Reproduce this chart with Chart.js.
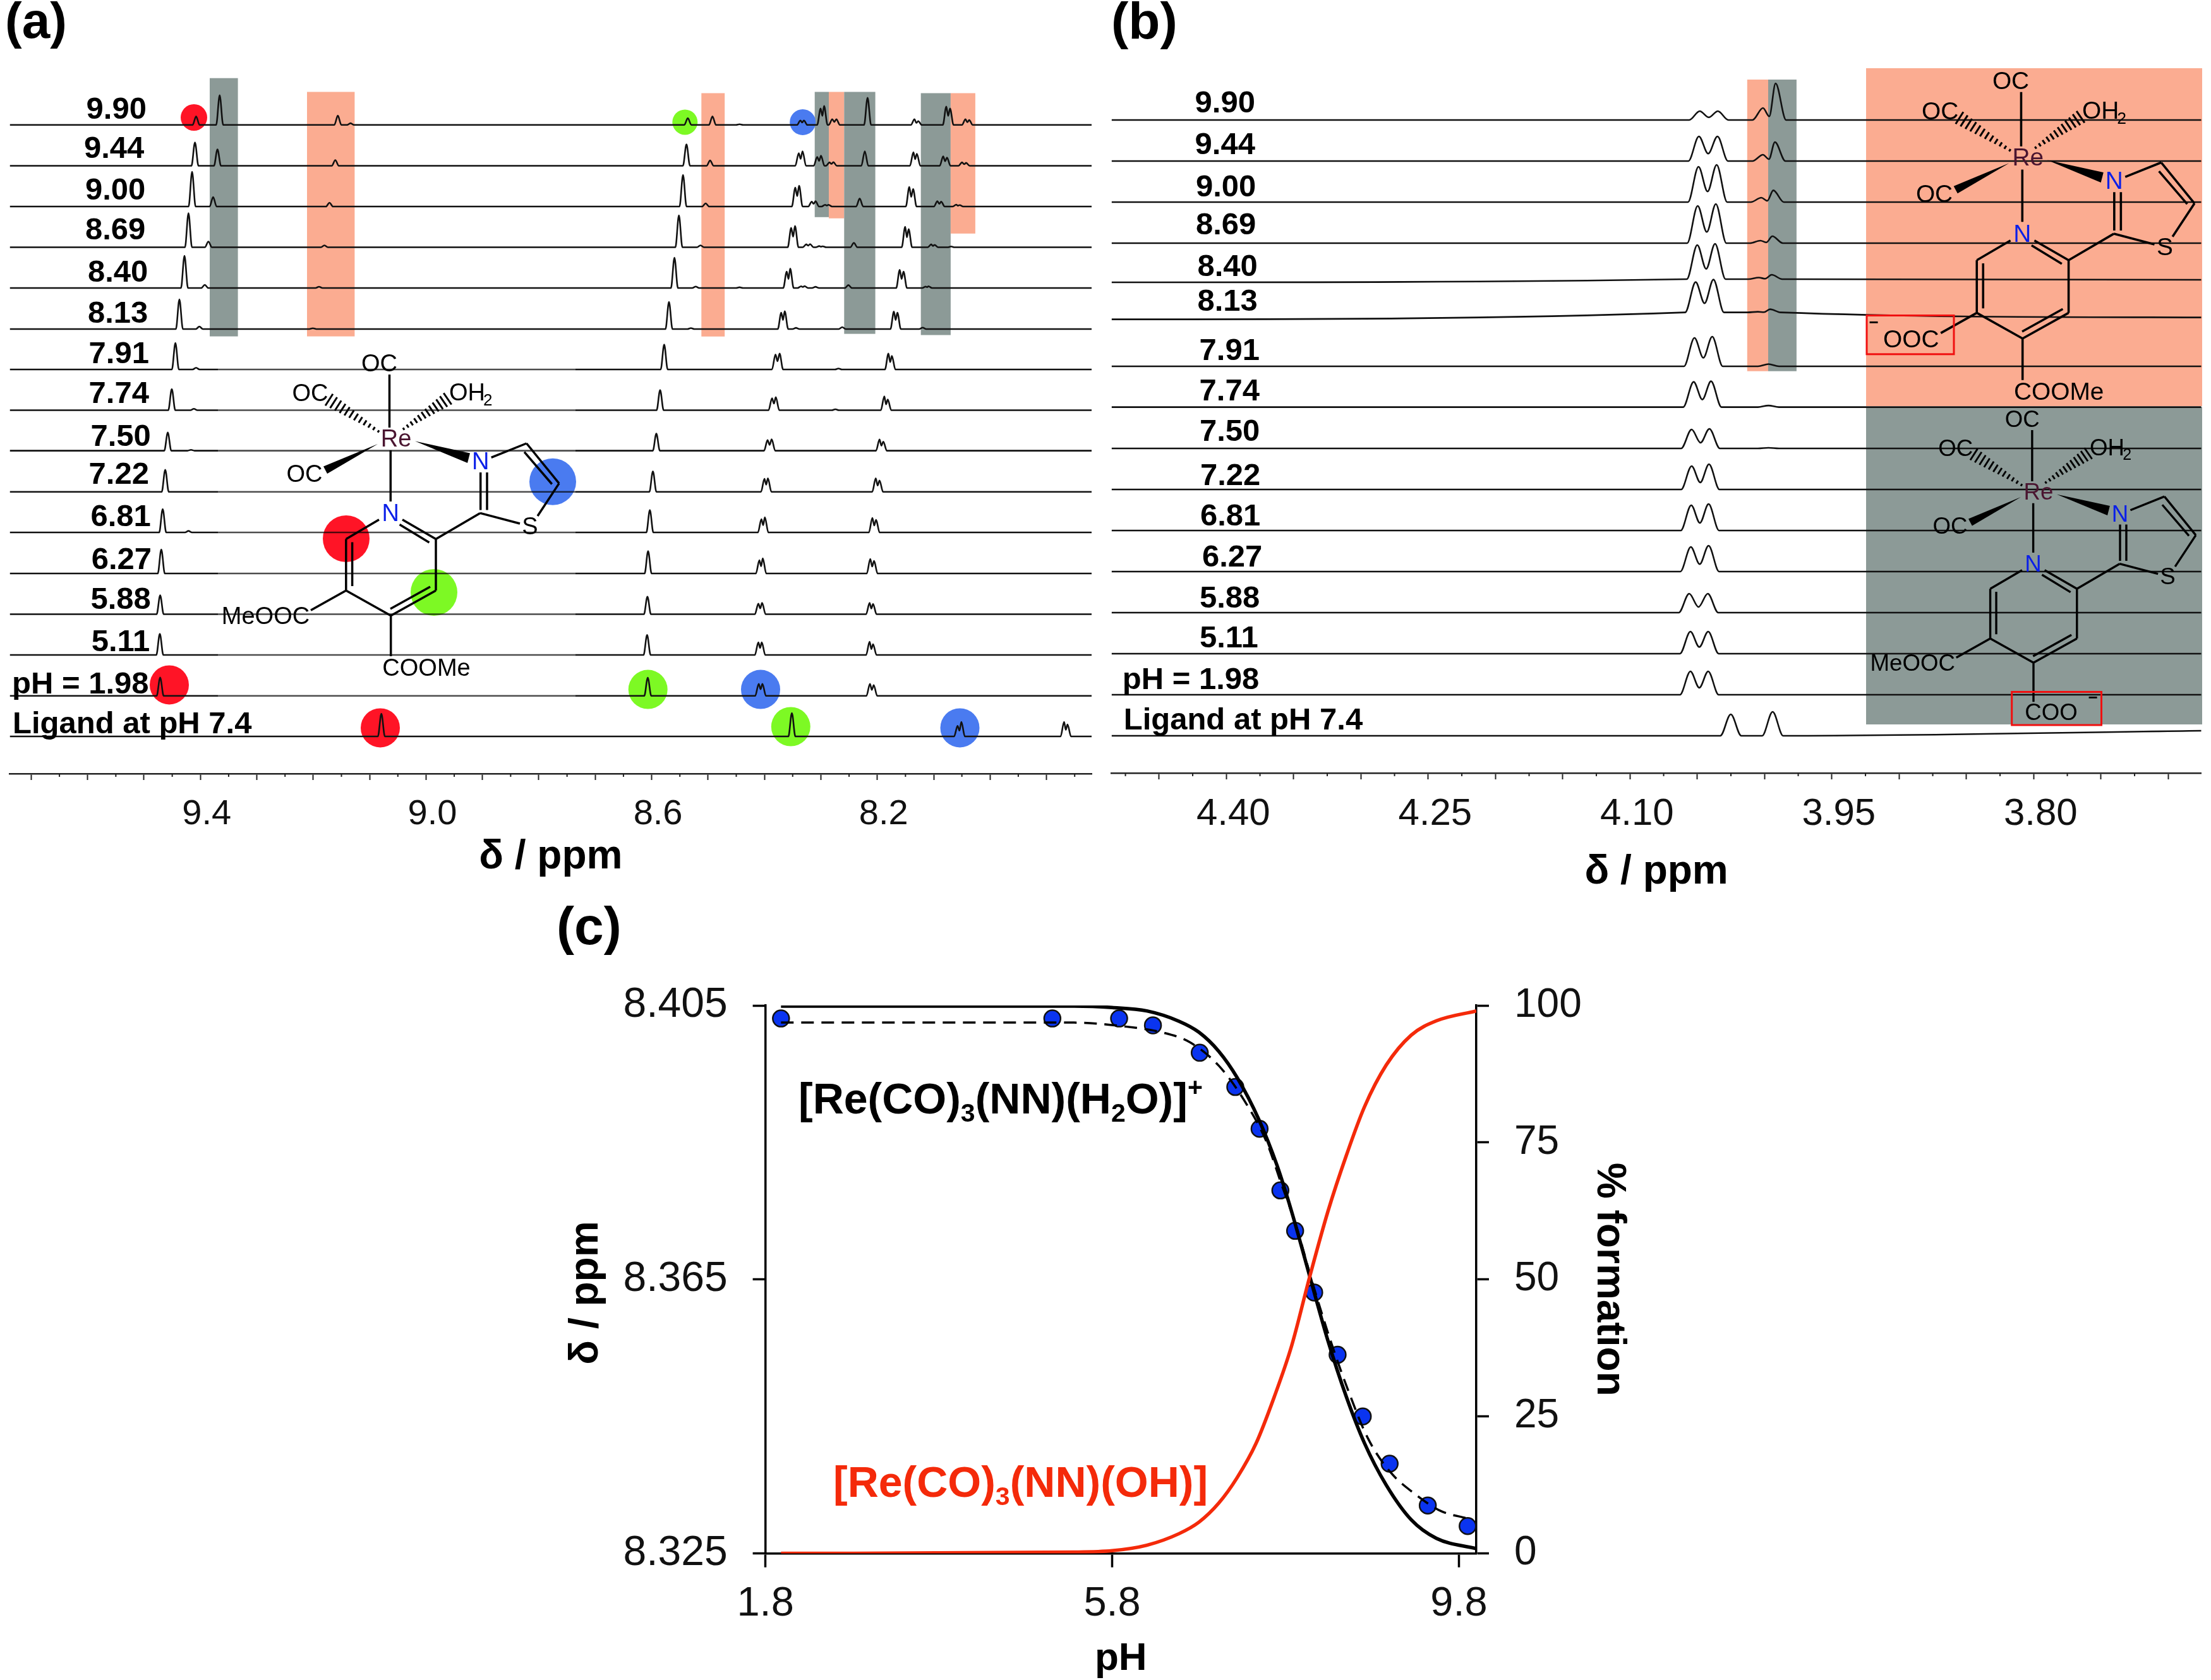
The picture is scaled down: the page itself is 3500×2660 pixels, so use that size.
<!DOCTYPE html>
<html>
<head>
<meta charset="utf-8">
<style>
  html, body { margin: 0; background: #fff; }
  body { position: relative; width: 3500px; height: 2660px; overflow: hidden; }
  canvas { position: absolute; }
</style>
<script src="https://cdn.jsdelivr.net/npm/chart.js@4"></script>
</head>
<body>
<canvas id="pa" width="1750" height="1396" style="left:0;top:0"></canvas>
<canvas id="pb" width="1750" height="1420" style="left:1750px;top:0"></canvas>
<canvas id="pc" width="1735" height="1260" style="left:850px;top:1400px"></canvas>
<script>
// ============================================================
// DATA
// ============================================================
const phLabels = ['9.90','9.44','9.00','8.69','8.40','8.13','7.91','7.74','7.50','7.22','6.81','6.27','5.88','5.11','pH = 1.98','Ligand at pH 7.4'];

// panel a: peaks per spectrum, [ppm, height]
const peaksA = [
  [[9.4077,13.4],[9.3659,47],[9.1564,14.7],[9.1339,2.7],[8.5359,10.7],[8.4922,13.4],[8.4442,1.1],[8.3362,7],[8.3301,7],[8.3004,26],[8.2943,30],[8.2798,9],[8.2725,9],[8.2172,43],[8.1341,9],[8.1274,6],[8.0776,29],[8.0710,26],[8.0436,9],[8.0370,7.7]],
  [[9.4097,37],[9.3698,26],[9.1609,9],[8.5383,34],[8.4964,8.4],[8.3392,20],[8.3325,23],[8.3065,14],[8.2998,16],[8.2846,5.4],[8.2779,5.7],[8.2221,23],[8.1359,21.4],[8.1298,19],[8.0831,15],[8.0764,13],[8.0497,5.4],[8.0424,4.6]],
  [[9.4148,55],[9.3775,15],[9.1712,6],[8.5444,50],[8.5043,5],[8.3453,30],[8.3386,33],[8.3162,7.7],[8.3095,8.4],[8.2925,2.7],[8.2864,2.7],[8.2312,12.6],[8.1432,31],[8.1365,27.6],[8.0934,8.4],[8.0867,7.7],[8.0600,3],[8.0539,2.3]],
  [[9.4212,54],[9.3859,9],[9.1802,3],[8.5517,50.5],[8.5134,3],[8.3526,30.6],[8.3459,33.7],[8.3259,4.6],[8.3192,5],[8.3028,1.9],[8.2967,1.5],[8.2415,7],[8.1505,32.5],[8.1444,28.7],[8.1043,4.6],[8.0983,3.8],[8.0691,1.2]],
  [[9.4283,51],[9.3923,5],[9.1898,2],[8.5596,48],[8.5219,2.3],[8.4442,1.1],[8.3605,26],[8.3544,30.6],[8.3350,2.7],[8.3289,3],[8.3095,1.9],[8.2512,4.6],[8.1602,28.7],[8.1535,26],[8.1141,2.3],[8.1092,2.7]],
  [[9.4373,47],[9.4019,4],[9.2007,1.3],[8.5693,43],[8.5304,1.5],[8.3702,26],[8.3641,28.3],[8.3441,1.9],[8.2621,3],[8.1705,27.6],[8.1644,26],[8.1195,2.3]],
  [[9.4444,42],[9.4077,2.7],[8.5778,39.4],[8.3805,23.7],[8.3732,25.3],[8.2688,1.5],[8.1802,25.3],[8.1741,21.4]],
  [[9.4508,33.5],[9.4116,2.2],[8.5850,32],[8.3866,19],[8.3799,20.7],[8.2743,1.5],[8.1875,22],[8.1814,17]],
  [[9.4579,28.7],[9.4167,1.4],[8.5917,27],[8.3945,16.7],[8.3872,18],[8.1960,17.7],[8.1893,14.4]],
  [[9.4624,35],[8.5978,32.5],[8.4000,20.6],[8.3939,21.5],[8.2027,21.5],[8.1960,18]],
  [[9.4669,37],[9.4212,2.4],[8.6032,35.4],[8.4054,21],[8.3993,24],[8.2087,23],[8.2021,20]],
  [[9.4694,38],[8.6063,35.4],[8.4090,21],[8.4030,24],[8.2124,23],[8.2057,20]],
  [[9.4714,30],[8.6075,27.8],[8.4108,16.7],[8.4042,18],[8.2136,18],[8.2075,16.3]],
  [[9.4720,33.5],[8.6081,31.6],[8.4108,20],[8.4048,20],[8.2136,21],[8.2075,17]],
  [[9.4714,29],[8.6069,28.7],[8.4102,19],[8.4036,19],[8.2130,19],[8.2063,17]],
  [[9.0792,36],[8.3514,37],[8.0576,16.7],[8.0509,23],[7.8688,23],[7.8627,19]]
];
const offsetsA = [1027.2,962.5,898,833.5,769,704,640,575.5,511.4,446.3,382,317,252.5,188,123.3,59];
const majorA = [9.7,9.6,9.5,9.4,9.3,9.2,9.1,9.0,8.9,8.8,8.7,8.6,8.5,8.4,8.3,8.2,8.1,8.0,7.9];
const minorA = [9.65,9.55,9.45,9.35,9.25,9.15,9.05,8.95,8.85,8.75,8.65,8.55,8.45,8.35,8.25,8.15,8.05,7.95,7.85];
const tickLabelsA = ['9.4','9.0','8.6','8.2'];

// panel b
const peaksB = [
  [[4.0482,14],[4.0347,14],[4.0012,19],[3.9918,58]],
  [[4.0488,39],[4.0350,39],[4.0012,10],[3.9923,30]],
  [[4.0491,56],[4.0356,59],[4.0024,7],[3.9935,18.6]],
  [[4.0497,59],[4.0362,62],[4.0031,4],[3.9942,11]],
  [[4.0500,54],[4.0368,56],[4.0043,2.5],[3.9947,7]],
  [[4.0512,48],[4.0380,52],[4.0050,1],[3.9959,5]],
  [[4.0521,45],[4.0389,47],[3.9971,3.5]],
  [[4.0527,40],[4.0398,41],[3.9971,2.5]],
  [[4.0542,30],[4.0410,31],[3.9971,1]],
  [[4.0542,37],[4.0413,40]],
  [[4.0545,40],[4.0416,42]],
  [[4.0548,39],[4.0416,41]],
  [[4.0560,30],[4.0422,30]],
  [[4.0551,35],[4.0419,35]],
  [[4.0551,37],[4.0419,37]],
  [[4.0251,34],[3.9940,38]]
];
const offsetsB = [1034,969,904,839,782,729.4,644,579.4,514,449,384,319,254,189,124,59];
// baseline drift at the left and right ends of a spectrum
const driftB = { 4: [-5,-1], 5: [-11,-8], 15: [0,8] };
const majorB = [4.45,4.40,4.35,4.30,4.25,4.20,4.15,4.10,4.05,4.00,3.95,3.90,3.85,3.80,3.75,3.70];
const minorB = [4.475,4.425,4.375,4.325,4.275,4.225,4.175,4.125,4.075,4.025,3.975,3.925,3.875,3.825,3.775,3.725];
const tickLabelsB = ['4.40','4.25','4.10','3.95','3.80'];

// panel c
const phPoints = [1.98,5.11,5.88,6.27,6.81,7.22,7.50,7.74,7.91,8.13,8.40,8.69,9.00,9.44,9.90];
const deltaPoints = [8.4031,8.4031,8.4031,8.4021,8.3981,8.3931,8.3870,8.3780,8.3721,8.3631,8.3540,8.3450,8.3381,8.3320,8.3290];
const phFit = [1.98,5.11,5.36,5.9,6.4,6.7,7.03,7.32,7.58,7.75,7.92,8.12,8.32,8.54,8.75,9.0,9.29,9.59,9.9];
const deltaFit = [8.4025,8.4025,8.4025,8.4020,8.4010,8.3996,8.3962,8.3912,8.3851,8.3790,8.3729,8.3641,8.3560,8.3482,8.3418,8.3370,8.3337,8.3312,8.3301];
const phCurve = [1.98,5.36,5.8,6.2,6.57,6.8,7.03,7.24,7.49,7.70,7.87,8.08,8.29,8.50,8.71,8.96,9.25,9.54,10.0];
const deltaCurve = [8.4049,8.4049,8.4047,8.4042,8.4027,8.4011,8.3983,8.3945,8.3884,8.3817,8.3749,8.3654,8.3560,8.3479,8.3411,8.3350,8.3299,8.3272,8.3257];
const phRed = [1.98,5.36,5.8,6.2,6.57,6.8,7.03,7.24,7.46,7.67,7.87,8.08,8.29,8.5,8.71,8.96,9.25,9.54,10.0];
const pctRed = [0,0.24,0.5,1.5,3.6,5.7,9.2,13.8,20.1,28.6,37.9,50.6,62.5,72.6,81.5,89.1,94.6,97.2,99];
const xTicksC = [1.8,5.8,9.8];
const yTicksC = [8.325,8.365,8.405];
const y2TicksC = [0,25,50,75,100];

// ============================================================
// HELPERS
// ============================================================
const FONT = '"Liberation Sans", Arial, sans-serif';
Chart.defaults.font.family = FONT;
Chart.defaults.color = '#111';
const SALMON = '#FBAC91', GREY = '#8C9A97', RED = '#FF1426', GREEN = '#7DF924', BLUE = '#4A7BF0', INK = '#111';

// foot, apex, foot for each peak; close neighbours share a valley point
function spectrum(peaks, base, foot, valley, xMin, xMax, drift) {
  const sorted = [...peaks].sort((p, q) => p[0] - q[0]);
  const pts = [{ x: xMin, y: base + (drift ? drift[1] : 0) }];
  sorted.forEach((p, i) => {
    const prev = sorted[i - 1], next = sorted[i + 1];
    if (!prev || p[0] - prev[0] >= foot * 2.2) pts.push({ x: p[0] - foot, y: base });
    else pts.push({ x: (p[0] + prev[0]) / 2, y: base + Math.min(p[1], prev[1]) * valley });
    pts.push({ x: p[0], y: base + p[1] });
    if (!next || next[0] - p[0] >= foot * 2.2) pts.push({ x: p[0] + foot, y: base });
  });
  pts.push({ x: xMax, y: base + (drift ? drift[0] : 0) });
  return pts;
}

function rects(ctx, list) {
  list.forEach(r => { ctx.fillStyle = r[0]; ctx.fillRect(r[1], r[2], r[3] - r[1], r[4] - r[2]); });
}
function blobs(ctx, list) {
  list.forEach(b => { ctx.fillStyle = b[0]; ctx.beginPath(); ctx.ellipse(b[1], b[2], b[3], b[3], 0, 0, Math.PI * 2); ctx.fill(); });
}
function text(ctx, s, x, y, font, color, align, rot) {
  ctx.save();
  ctx.translate(x, y);
  if (rot) ctx.rotate(rot);
  ctx.font = font + ' ' + FONT;
  ctx.fillStyle = color || '#000';
  ctx.textAlign = align || 'left';
  ctx.textBaseline = 'middle';
  ctx.fillText(s, 0, 0);
  ctx.restore();
}
// [text, 'sub'|'sup'|undefined] runs left to right
function richText(ctx, runs, x, y, size, color) {
  let cx = x;
  runs.forEach(r => {
    const small = r[1] ? Math.round(size * 0.6) : size;
    const dy = r[1] === 'sub' ? size * 0.3 : r[1] === 'sup' ? -size * 0.3 : 0;
    ctx.font = 'bold ' + small + 'px ' + FONT;
    const w = ctx.measureText(r[0]).width;
    text(ctx, r[0], cx, y + dy, 'bold ' + small + 'px', color);
    cx += w;
  });
}
function ticksOn(chart, values, len) {
  const { ctx } = chart, s = chart.scales.x;
  ctx.save();
  ctx.strokeStyle = '#222';
  ctx.lineWidth = 2;
  ctx.beginPath();
  values.forEach(v => { const px = s.getPixelForValue(v); ctx.moveTo(px, s.top); ctx.lineTo(px, s.top + len); });
  ctx.stroke();
  ctx.restore();
}

const BONDS = [
  [-10.5,-101.6,-10.5,-17.6],[-8.7,18.4,-8.7,99.4],[150.7,29.8,206.5,7.4],[206.5,7.4,258,70.8],[203,21,246.7,71.9],
  [258,70.8,224,122.4],[196,134.4,133,117.8],[133.7,53.4,133.7,112.9],[144,53.4,144,112.9],[133,117.8,63,158.8],
  [63,158.8,63,240.4],[63,240.4,-8.3,280.1],[54,234.4,-9,269.4],[-8.3,280.1,-79.2,240.4],[-79.2,240.4,-79.2,158.8],
  [-69.4,233.4,-69.4,163.8],[-79.2,158.8,-27,128.2],[10,128.2,63,158.8],[5.6,135.8,52.5,164.4],[-135,271.7,-79.2,240.4],
  [-8.3,280.1,-8.3,344.4]
];
function hash(ctx, x0, y0, x1, y1) {
  const dx = x1 - x0, dy = y1 - y0, l = Math.hypot(dx, dy), nx = -dy / l, ny = dx / l;
  ctx.lineWidth = 3;
  ctx.beginPath();
  for (let i = 0; i <= 11; i++) {
    const t = i / 11, h = 2 + t * 9, mx = x0 + dx * t, my = y0 + dy * t;
    ctx.moveTo(mx - nx * h, my - ny * h);
    ctx.lineTo(mx + nx * h, my + ny * h);
  }
  ctx.stroke();
}
function molecule(ctx, ox, oy, s, left, bottom) {
  ctx.save();
  ctx.translate(ox, oy);
  ctx.scale(s, s);
  ctx.strokeStyle = '#000';
  ctx.fillStyle = '#000';
  ctx.lineWidth = 3.5;
  ctx.beginPath();
  BONDS.forEach(b => { ctx.moveTo(b[0], b[1]); ctx.lineTo(b[2], b[3]); });
  ctx.stroke();
  hash(ctx, -28, -11.6, -106, -61.6);
  hash(ctx, 12, -15.6, 81.5, -63.2);
  ctx.beginPath(); ctx.moveTo(-29, 8.4); ctx.lineTo(-115, 44); ctx.lineTo(-109, 55.4); ctx.closePath(); ctx.fill();
  ctx.beginPath(); ctx.moveTo(30, 3.8); ctx.lineTo(117, 22.9); ctx.lineTo(113, 38.4); ctx.closePath(); ctx.fill();
  const f = '38px';
  text(ctx, 'OC', -26.6, -117, f, '#000', 'center');
  text(ctx, 'OC', -136, -70, f, '#000', 'center');
  text(ctx, 'OC', -145, 58, f, '#000', 'center');
  text(ctx, 'OH', 84, -71, f, '#000', 'left');
  text(ctx, '2', 138, -60, '26px', '#000', 'left');
  text(ctx, 'Re', 0, 1.5, f, '#4A1530', 'center');
  text(ctx, 'N', 133.7, 38, f, '#0A1FE8', 'center');
  text(ctx, 'N', -8.7, 120, f, '#0A1FE8', 'center');
  text(ctx, 'S', 212, 140.5, f, '#000', 'center');
  text(ctx, left[0], left[1], left[2] + 1.5, f, '#000', 'center');
  text(ctx, bottom[0], bottom[1], bottom[2] + 1.5, f, '#000', 'center');
  ctx.restore();
}
function frameBox(ctx, x0, y0, x1, y1) {
  ctx.strokeStyle = '#F01010';
  ctx.lineWidth = 3;
  ctx.strokeRect(x0, y0, x1 - x0, y1 - y0);
}

function stackChart(id, peaks, offsets, o) {
  return new Chart(document.getElementById(id), {
    type: 'line',
    data: {
      datasets: peaks.map((p, i) => ({
        label: phLabels[i],
        data: spectrum(p, offsets[i], o.foot, o.valley, o.xMin, o.xMax, o.drift && o.drift[i]),
        borderColor: INK, borderWidth: 2.6, pointRadius: 0, cubicInterpolationMode: 'monotone', fill: false
      }))
    },
    options: {
      responsive: false, animation: false,
      layout: { padding: o.padding },
      plugins: { legend: { display: false }, tooltip: { enabled: false } },
      scales: {
        x: {
          type: 'linear', reverse: true, min: o.xMin, max: o.xMax,
          afterBuildTicks: s => { s.ticks = o.major.map(v => ({ value: v })); },
          afterFit: s => { s.height = o.axisHeight; },
          border: { color: '#222', width: 2.5 },
          grid: { drawOnChartArea: false, tickLength: 10, tickWidth: 2, tickColor: '#222' },
          ticks: {
            autoSkip: false, maxRotation: 0, padding: o.tickPad, labelOffset: o.labelOffset, color: '#111',
            font: { size: o.tickSize },
            callback: v => { const s = v.toFixed(o.digits); return o.labels.includes(s) ? s : ''; }
          },
          title: { display: true, text: 'δ / ppm', color: '#000', padding: 0, font: { size: 64, weight: 'bold' } }
        },
        y: { display: false, min: 0, max: o.yMax }
      }
    },
    plugins: [{ id: id + '-under', beforeDatasetsDraw: o.under }, { id: id + '-over', afterDatasetsDraw: o.over }, { id: id + '-minor', afterDraw: c => ticksOn(c, o.minor, 5) }]
  });
}

// ============================================================
// PANEL A
// ============================================================
const labelXA = [136.6,133,135,135,139,139,140.6,140.6,143.5,140.6,143.5,144.7,143.5,144.7,19,20];
const labelYA = [174,236,302,365.6,432.6,497,561,624,692,752,819,887.5,950.7,1017.6,1084.6,1147];

stackChart('pa', peaksA, offsetsA, {
  foot: 0.0062, valley: 0.55, xMin: 7.82, xMax: 9.738, yMax: 1125, major: majorA, minor: minorA, labels: tickLabelsA,
  padding: { left: 15.5, right: 22, top: 100, bottom: 0 }, axisHeight: 171, tickPad: 21, labelOffset: 10, tickSize: 56, digits: 1,
  under(c) {
    const { ctx } = c;
    ctx.save();
    rects(ctx, [
      [GREY,332,123.7,376.6,532.6],[SALMON,486,145.5,561.4,532.6],[SALMON,1110.3,147.5,1147.2,532.8],
      [GREY,1289.7,145.5,1312,343.8],[SALMON,1312,145.5,1336.3,345.7],[GREY,1336.3,145.5,1385.6,528.6],
      [GREY,1457.7,147.5,1504.9,530.5],[SALMON,1504.9,147.5,1543.9,369.8]
    ]);
    blobs(ctx, [
      [RED,307,186,21],[GREEN,1084.3,193.4,20],[BLUE,1270.7,193.4,20.5],
      [RED,268,1084.4,31],[RED,602,1152.4,31],[GREEN,1025.7,1091.6,31],[BLUE,1204,1091.6,31],[GREEN,1251.8,1150.5,31],[BLUE,1519.5,1152.4,31]
    ]);
    ctx.restore();
  },
  over(c) {
    const { ctx } = c;
    ctx.save();
    // pasted structure dims the traces behind it
    ctx.fillStyle = 'rgba(255,255,255,0.25)';
    ctx.fillRect(345, 575, 566, 535);
    ctx.globalCompositeOperation = 'multiply';
    blobs(ctx, [[RED,548,853,37],[GREEN,687,938,37],[BLUE,875,762.7,37]]);
    ctx.globalCompositeOperation = 'source-over';
    molecule(ctx, 627, 694.6, 1, ['MeOOC', -206.5, 281.4], ['COOMe', 48, 363.4]);
    phLabels.forEach((l, i) => text(ctx, l, labelXA[i], labelYA[i], 'bold 49px'));
    text(ctx, '(a)', 8, 38, 'bold 80px');
    ctx.restore();
  }
});

// ============================================================
// PANEL B
// ============================================================
const labelXB = [1891.6,1891.6,1892.9,1892.9,1895.4,1895.4,1898.6,1898.6,1899,1900,1900,1903,1899,1899,1776.8,1778.7];
const labelYB = [164.7,230.8,297.8,357.6,423.6,478.6,556.7,620,684.8,754.5,818,883,948.5,1011,1077,1141.6];

stackChart('pb', peaksB, offsetsB, {
  foot: 0.0078, valley: 0.3, xMin: 3.6754, xMax: 4.4853, yMax: 1144, major: majorB, minor: minorB, labels: tickLabelsB, drift: driftB,
  padding: { left: 9.6, right: 15.3, top: 80, bottom: 0 }, axisHeight: 196, tickPad: 19, labelOffset: 11, tickSize: 60, digits: 2,
  under(c) {
    const { ctx } = c;
    ctx.save();
    ctx.translate(-1750, 0);
    rects(ctx, [
      [SALMON,2765.8,126,2799,587.7],[GREY,2799,126,2843.9,587.7],
      [SALMON,2954,108,3486,643],[GREY,2954,644.5,3486,1147]
    ]);
    ctx.restore();
  },
  over(c) {
    const { ctx } = c;
    ctx.save();
    ctx.translate(-1750, 0);
    molecule(ctx, 3210.2, 249.7, 1.022, ['OOC', -181, 282], ['COOMe', 48, 363.4]);
    molecule(ctx, 3227, 779, 0.965, ['MeOOC', -206.5, 281.4], ['COO', 20.7, 361.7]);
    frameBox(ctx, 2955, 499.5, 3093, 560.8);
    frameBox(ctx, 3184.7, 1095.5, 3326.5, 1148);
    text(ctx, '−', 2966, 512, 'bold 26px', '#000', 'center');
    text(ctx, '−', 3313, 1106, 'bold 26px', '#000', 'center');
    phLabels.forEach((l, i) => text(ctx, l, labelXB[i], labelYB[i], 'bold 49px'));
    text(ctx, '(b)', 1759, 38, 'bold 82px');
    ctx.restore();
  }
});

// ============================================================
// PANEL C
// ============================================================
const toXY = (xs, ys) => xs.map((x, i) => ({ x, y: ys[i] }));

new Chart(document.getElementById('pc'), {
  type: 'line',
  data: {
    datasets: [
      { label: 'Experimental', data: toXY(phPoints, deltaPoints), yAxisID: 'y', showLine: false, pointRadius: 13, pointBackgroundColor: '#0A34F0', pointBorderColor: '#111', pointBorderWidth: 2.5, order: 4 },
      { label: 'Fit', data: toXY(phFit, deltaFit), yAxisID: 'y', borderColor: '#000', borderWidth: 3.5, borderDash: [20, 12], pointRadius: 0, cubicInterpolationMode: 'monotone', order: 3 },
      { label: '[Re(CO)3(NN)(H2O)]+', data: toXY(phCurve, deltaCurve), yAxisID: 'y', borderColor: '#000', borderWidth: 5.5, pointRadius: 0, cubicInterpolationMode: 'monotone', order: 2 },
      { label: '[Re(CO)3(NN)(OH)]', data: toXY(phRed, pctRed), yAxisID: 'y2', borderColor: '#F42A0A', borderWidth: 5.5, pointRadius: 0, cubicInterpolationMode: 'monotone', order: 1 }
    ]
  },
  options: {
    responsive: false, animation: false,
    layout: { padding: { top: 192 } },
    plugins: { legend: { display: false }, tooltip: { enabled: false } },
    scales: {
      x: {
        type: 'linear', min: 1.8, max: 10,
        afterBuildTicks: s => { s.ticks = xTicksC.map(v => ({ value: v })); },
        afterFit: s => { s.height = 200.4; },
        border: { color: '#000', width: 3.5 },
        grid: { drawOnChartArea: false, tickLength: 22, tickWidth: 3.5, tickColor: '#000' },
        ticks: { autoSkip: false, maxRotation: 0, padding: 19, color: '#111', font: { size: 65 }, callback: v => v.toFixed(1) },
        title: { display: true, text: 'pH', color: '#000', padding: { top: 0, bottom: -4 }, font: { size: 62, weight: 'bold' } }
      },
      y: {
        position: 'left', min: 8.325, max: 8.405,
        afterBuildTicks: s => { s.ticks = yTicksC.map(v => ({ value: v })); },
        afterFit: s => { s.width = 361.6; },
        border: { color: '#000', width: 3.5 },
        grid: { drawOnChartArea: false, tickLength: 20, tickWidth: 3.5, tickColor: '#000' },
        ticks: { padding: 40, color: '#111', font: { size: 66 }, callback: v => v.toFixed(3) }
      },
      y2: {
        position: 'right', min: 0, max: 100,
        afterBuildTicks: s => { s.ticks = y2TicksC.map(v => ({ value: v })); },
        afterFit: s => { s.width = 248; },
        border: { color: '#000', width: 3.5 },
        grid: { drawOnChartArea: false, tickLength: 20, tickWidth: 3.5, tickColor: '#000' },
        ticks: { padding: 40, color: '#111', font: { size: 64 } },
        title: { display: true, text: '% formation', color: '#000', padding: 0, font: { size: 64, weight: 'bold' } }
      }
    }
  },
  plugins: [{
    id: 'pc-notes',
    afterDraw(c) {
      const { ctx } = c;
      ctx.save();
      ctx.translate(-850, -1400);
      text(ctx, 'δ / ppm', 928, 2047, 'bold 64px', '#000', 'center', -Math.PI / 2);
      richText(ctx, [['[Re(CO)'],['3','sub'],['(NN)(H'],['2','sub'],['O)]'],['+','sup']], 1264, 1744, 68, '#000');
      richText(ctx, [['[Re(CO)'],['3','sub'],['(NN)(OH)]']], 1319, 2351, 68, '#F42A0A');
      text(ctx, '(c)', 881, 1472, 'bold 84px');
      ctx.restore();
    }
  }]
});
</script>
</body>
</html>
